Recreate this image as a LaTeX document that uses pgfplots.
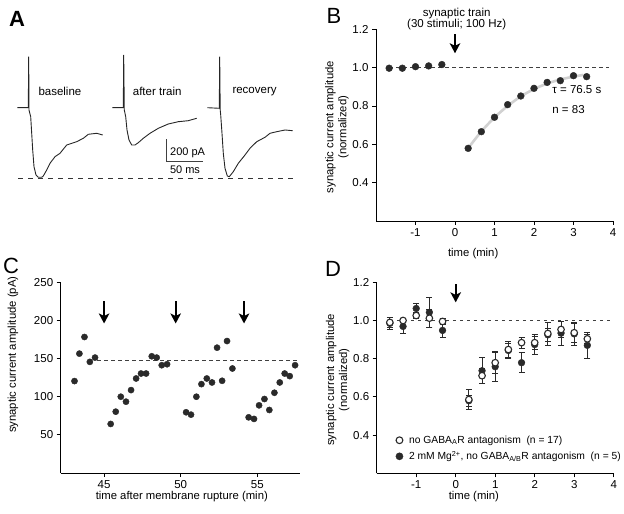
\documentclass[border=0pt]{standalone}
\usepackage{pgfplots}
\pgfplotsset{compat=1.18}
\usepackage{fontspec}
\setmainfont{Liberation Sans}
\usetikzlibrary{arrows.meta}
\definecolor{dotc}{HTML}{2A2A2A}
\tikzset{bigarrow/.style={line width=1.8pt, -{Stealth[length=10pt,width=10.5pt,inset=2.5pt]}}}
\pgfplotsset{
  panel/.style={scale only axis, anchor=south west, clip=false,
    axis x line*=bottom, axis y line*=left,
    axis line style={line width=0.8pt,-},
    tick align=outside, major tick length=4pt,
    tick style={line width=0.8pt,black},
    ticklabel style={font=\fontsize{11.5}{12}\selectfont},
    label style={font=\fontsize{11.3}{13}\selectfont},
    /pgf/number format/assume math mode=true},
  normy/.style={ymin=0.2, ymax=1.2, ytick={0.4,0.6,0.8,1.0,1.2},
    yticklabel style={/pgf/number format/.cd, fixed, fixed zerofill, precision=1},
    xmin=-2, xmax=4, xtick={-1,0,1,2,3,4}},
  dots/.style={only marks, mark=*, mark size=3.4pt, color=dotc},
}
\begin{document}
\begin{tikzpicture}
\useasboundingbox (0,0) rectangle (624pt,514pt);
% ---------------- Panel A ----------------
\begin{axis}[scale only axis, anchor=south west, at={(0pt,314pt)},
  width=310pt, height=160pt, xmin=0, xmax=310, ymin=-200, ymax=-40,
  axis lines=none, clip=false]
\addplot[black!85, line width=0.9pt] coordinates {(17.3,-107.7) (28.3,-107.7) (28.7,-56.7) (29,-110) (30.7,-116.7) (31.7,-133.3) (32.7,-150) (34,-166.7) (36,-175) (38.3,-177.3) (41.7,-177.3) (43.3,-176) (46.7,-170) (50,-163.3) (55,-156.7) (60,-153.3) (66.7,-145) (76.7,-141.7) (83.3,-138.3) (88.3,-134.3) (96.7,-133.3) (102.7,-135)};
\addplot[black!85, line width=0.9pt] coordinates {(112.3,-107.7) (123.3,-107.7) (123.7,-55) (124.3,-110) (125.7,-116.7) (127,-130) (129,-140) (131.7,-145) (135,-145) (138.3,-142.7) (143.3,-138.3) (150,-133.3) (158.3,-128.3) (168.3,-124) (178.3,-121.7) (188.3,-120.7) (196.7,-118.3)};
\addplot[black!85, line width=0.9pt] coordinates {(207.3,-107.7) (219.3,-108.3) (219.7,-56.7) (220.2,-110) (220.7,-115) (222,-133.3) (223.3,-153.3) (225,-168.3) (227.3,-176) (229.3,-176.7) (233.3,-171.7) (238.3,-163.3) (245,-155) (250,-148.3) (256.7,-141.7) (265,-137.3) (270,-133.3) (276.7,-131.7) (285,-130) (292.7,-130.7)};
\addplot[black!80, line width=0.7pt, dash pattern=on 5pt off 5pt] coordinates {(18.3,-178.3) (295,-178.3)};
\draw[black!75, line width=0.8pt] (axis cs:166.7,-139.3) -- (axis cs:166.7,-161.7) -- (axis cs:202.7,-161.7);
\node[anchor=west, font=\fontsize{11.5}{12}\selectfont, inner sep=0pt] at (axis cs:38.3,-91.7) {baseline};
\node[anchor=west, font=\fontsize{11.5}{12}\selectfont, inner sep=0pt] at (axis cs:132.7,-91.7) {after train};
\node[anchor=west, font=\fontsize{11.5}{12}\selectfont, inner sep=0pt] at (axis cs:232.3,-91.7) {recovery};
\node[anchor=west, font=\fontsize{11}{12}\selectfont, inner sep=0pt] at (axis cs:170,-152.7) {200 pA};
\node[font=\fontsize{11}{12}\selectfont, inner sep=0pt] at (axis cs:185,-169.3) {50 ms};
\end{axis}
% ---------------- Panel B ----------------
\begin{axis}[panel, normy, at={(376pt,293pt)}, width=237pt, height=191.7pt,
  xlabel={time (min)}, xlabel style={at={(rel axis cs:0.41,-0.17)}, anchor=center},
  ylabel={synaptic current amplitude\\(normalized)},
  ylabel style={at={(rel axis cs:-0.165,0.49)}, anchor=center, align=center}]
\addplot[black!75, line width=0.6pt, dash pattern=on 3.5pt off 3.5pt] coordinates {(-1.667,1) (3.9,1)};
\addplot[smooth, line width=2.6pt, color=black!18] coordinates {(0.333,0.58) (0.667,0.667) (1,0.74) (1.333,0.80) (1.667,0.85) (2,0.888) (2.333,0.917) (2.667,0.938) (3,0.953) (3.25,0.962)};
\addplot[dots] coordinates {(-1.667,0.997) (-1.333,0.997) (-1,1.005) (-0.667,1.009) (-0.333,1.016)
 (0.333,0.579) (0.667,0.666) (1,0.741) (1.333,0.807) (1.667,0.852) (2,0.892) (2.333,0.923) (2.667,0.932) (3,0.958) (3.333,0.953)};
\draw[bigarrow] (axis cs:0,1.175) -- (axis cs:0,1.075);
\node[anchor=west, font=\fontsize{11.5}{12}\selectfont, inner sep=0pt] at (axis cs:2.46,0.884) {τ = 76.5 s};
\node[anchor=west, font=\fontsize{11.5}{12}\selectfont, inner sep=0pt] at (axis cs:2.46,0.784) {n = 83};
\end{axis}
\node[font=\fontsize{11.5}{12}\selectfont, inner sep=0pt] at (456.7pt,500.7pt) {synaptic train};
\node[font=\fontsize{11.5}{12}\selectfont, inner sep=0pt] at (456.7pt,489pt) {(30 stimuli; 100 Hz)};
% ---------------- Panel C ----------------
\begin{axis}[panel, at={(60.7pt,41pt)}, width=239.3pt, height=190.7pt,
  xmin=42.17, xmax=57.78, ymin=0, ymax=250, xtick={45,50,55}, ytick={50,100,150,200,250},
  xlabel={time after membrane rupture (min)}, xlabel style={at={(rel axis cs:0.506,-0.126)}, anchor=center},
  ylabel={synaptic current amplitude (pA)}, ylabel style={at={(rel axis cs:-0.2,0.62)}, anchor=center}]
\addplot[black!75, line width=0.6pt, dash pattern=on 3.5pt off 3.5pt] coordinates {(44.55,148) (57.7,148)};
\addplot[dots, mark size=3.1pt] coordinates {
 (43.07,120.5) (43.39,156.5) (43.72,178.3) (44.07,145.7) (44.41,151.3)
 (45.43,64.3) (45.76,80.4) (46.09,100) (46.43,93.5) (46.76,108.7) (47.09,123.9) (47.41,130.4) (47.74,130.4) (48.11,153) (48.43,151.3) (48.76,141.3) (49.11,142.6)
 (50.35,79.6) (50.67,76.5) (51.02,100) (51.35,116.5) (51.7,123.9) (52.04,118.7) (52.37,164.3) (52.7,120.9) (53.02,173) (53.37,137)
 (54.43,73) (54.78,70.9) (55.11,88.7) (55.46,97) (55.78,82.6) (56.11,105.2) (56.46,118.7) (56.78,130.4) (57.11,127) (57.46,141.3)};
\draw[bigarrow] (axis cs:45,225) -- (axis cs:45,196);
\draw[bigarrow] (axis cs:49.67,225) -- (axis cs:49.67,196);
\draw[bigarrow] (axis cs:54.13,225) -- (axis cs:54.13,196);
\end{axis}
% ---------------- Panel D ----------------
\begin{axis}[panel, normy, at={(376.7pt,40.7pt)}, width=237pt, height=191pt,
  xlabel={time (min)}, xlabel style={at={(rel axis cs:0.41,-0.122)}, anchor=center},
  ylabel={synaptic current amplitude\\(normalized)},
  ylabel style={at={(rel axis cs:-0.165,0.49)}, anchor=center, align=center},
  legend image code/.code={\draw[#1] plot coordinates {(0pt,0pt)};},
  legend cell align=left,
  legend style={at={(rel axis cs:0.08,0.208)}, anchor=north west, draw=none, fill=none,
    font=\fontsize{10.3}{12}\selectfont, row sep=2.5pt, inner sep=0pt,
    nodes={inner sep=2pt}}]
\addplot[black!75, line width=0.6pt, dash pattern=on 3.5pt off 3.5pt, forget plot] coordinates {(-1.667,1) (3.9,1)};
\addplot[dots, forget plot, error bars/.cd, y dir=both, y explicit,
  error bar style={line width=0.8pt, color=dotc}, error mark options={rotate=90, mark size=3pt, line width=0.8pt, color=dotc}]
 coordinates {(-1.667,0.985) +- (0,0.03) (-1.333,0.969) +- (0,0.035) (-1,1.063) +- (0,0.028) (-0.667,1.043) +- (0,0.08) (-0.333,0.948) +- (0,0.035)
 (0.333,0.58) +- (0,0.03) (0.667,0.737) +- (0,0.068) (1,0.758) +- (0,0.077) (1.333,0.843) +- (0,0.035) (1.667,0.779) +- (0,0.053)
 (2,0.874) +- (0,0.053) (2.333,0.925) +- (0,0.033) (2.667,0.934) +- (0,0.062) (3,0.93) +- (0,0.06) (3.333,0.87) +- (0,0.067)};
\addplot[only marks, mark=*, mark size=3.3pt, black, mark options={fill=white, draw=dotc, line width=1.1pt}, forget plot,
  error bars/.cd, y dir=both, y explicit,
  error bar style={line width=0.8pt, color=dotc}, error mark options={rotate=90, mark size=3pt, line width=0.8pt, color=dotc}]
 coordinates {(-1.667,0.99) +- (0,0.025) (-1.333,1.0) +- (0,0.012) (-1,1.026) +- (0,0.015) (-0.667,1.012) +- (0,0.047) (-0.333,0.995) +- (0,0.015)
 (0.333,0.586) +- (0,0.052) (0.667,0.711) +- (0,0.04) (1,0.779) +- (0,0.058) (1.333,0.848) +- (0,0.045) (1.667,0.884) +- (0,0.03)
 (2,0.884) +- (0,0.034) (2.333,0.932) +- (0,0.06) (2.667,0.953) +- (0,0.04) (3,0.936) +- (0,0.05) (3.333,0.904) +- (0,0.023)};
\addlegendimage{only marks, mark=*, mark size=3.4pt, mark options={fill=white, draw=dotc, line width=1.1pt}}
\addlegendentry{\hspace*{4pt}no GABA\textsubscript{A}R antagonism\ \ (n = 17)}
\addlegendimage{only marks, mark=*, mark size=3.6pt, color=dotc}
\addlegendentry{\hspace*{4pt}2 mM Mg\textsuperscript{2+}, no GABA\textsubscript{A/B}R antagonism\ \ (n = 5)}
\draw[bigarrow] (axis cs:0,1.19) -- (axis cs:0,1.095);
\end{axis}
% ---------------- Panel letters ----------------
\node[font=\fontsize{22}{24}\selectfont\bfseries, inner sep=0pt] at (17pt,495pt) {A};
\node[font=\fontsize{22}{24}\selectfont, inner sep=0pt] at (334pt,498pt) {B};
\node[font=\fontsize{22}{24}\selectfont, inner sep=0pt] at (11pt,248pt) {C};
\node[font=\fontsize{22}{24}\selectfont, inner sep=0pt] at (333pt,245pt) {D};
\end{tikzpicture}
\end{document}
